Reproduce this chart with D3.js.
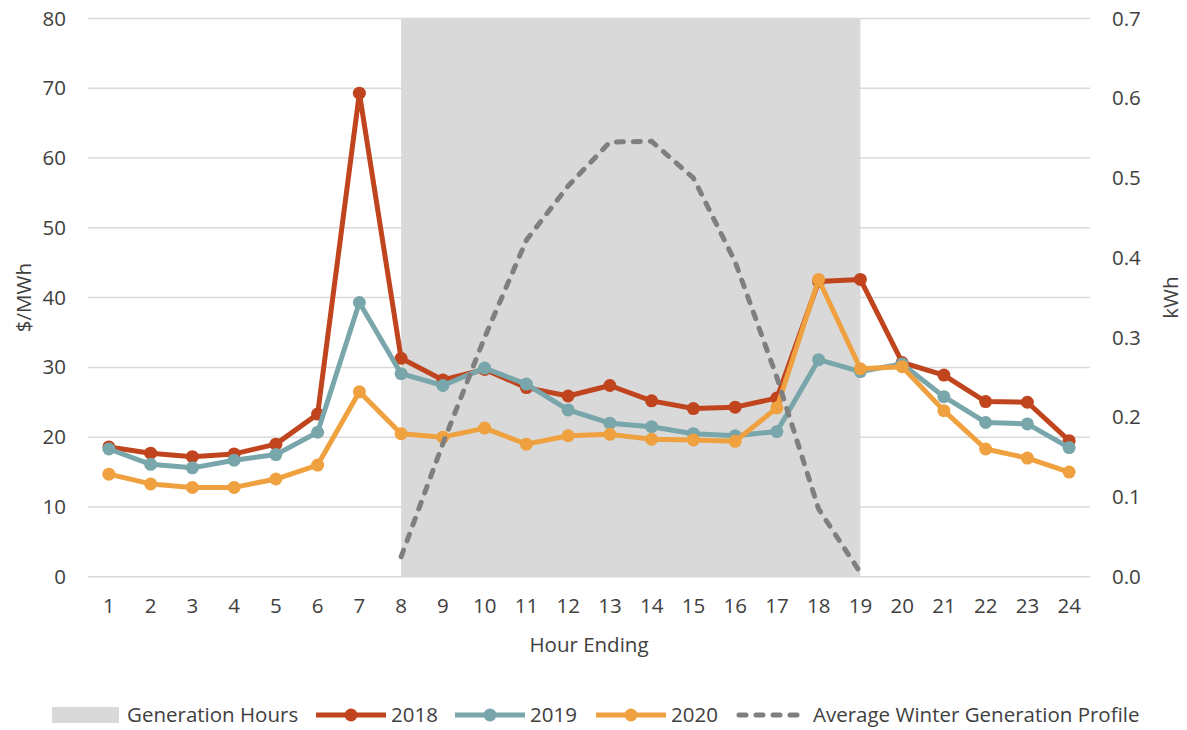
<!DOCTYPE html>
<html>
<head>
<meta charset="utf-8">
<script src="https://cdn.jsdelivr.net/npm/d3@7"></script>
<style>
  body { margin: 0; background: #fff; }
  text { font-family: "Open Sans", sans-serif; fill: #404040; }
</style>
</head>
<body>
<div id="chart"></div>
<script>
// hours on the x axis
const hours = d3.range(1, 25);

// $/MWh by hour ending
const price2018 = [18.6, 17.7, 17.2, 17.6, 19.0, 23.3, 69.3, 31.3, 28.2, 29.7, 27.1, 25.9, 27.4, 25.2, 24.1, 24.3, 25.6, 42.3, 42.6, 30.7, 28.9, 25.1, 25.0, 19.5];
const price2019 = [18.3, 16.1, 15.6, 16.7, 17.5, 20.7, 39.3, 29.1, 27.4, 29.9, 27.6, 23.9, 22.0, 21.5, 20.5, 20.2, 20.8, 31.1, 29.4, 30.5, 25.8, 22.1, 21.9, 18.5];
const price2020 = [14.7, 13.3, 12.8, 12.8, 14.0, 16.0, 26.5, 20.5, 20.0, 21.3, 19.0, 20.2, 20.4, 19.7, 19.6, 19.4, 24.2, 42.6, 29.8, 30.1, 23.8, 18.3, 17.0, 15.0];

// average winter generation profile (kWh), hours 8-19
const genHours = d3.range(8, 20);
const genProfile = [0.025, 0.167, 0.30, 0.422, 0.49, 0.545, 0.546, 0.50, 0.395, 0.25, 0.085, 0.005];

// shaded generation window
const genWindow = [8, 19];

const leftTicks = d3.range(0, 81, 10);
const rightTicks = d3.range(0, 0.71, 0.1);

const width = 1187, height = 730;
const margin = { top: 18.5, right: 97, bottom: 153.3, left: 88 };
const fs = "20.5px";

const svg = d3.select("#chart").append("svg")
  .attr("width", width)
  .attr("height", height);

const x = d3.scaleBand()
  .domain(hours)
  .range([margin.left, width - margin.right])
  .padding(0);
const cx = d => x(d) + x.bandwidth() / 2;

const yL = d3.scaleLinear().domain([0, 80]).range([height - margin.bottom, margin.top]);
const yR = d3.scaleLinear().domain([0, 0.7]).range([height - margin.bottom, margin.top]);

// gridlines
svg.append("g")
  .selectAll("line")
  .data(leftTicks)
  .join("line")
  .attr("x1", margin.left)
  .attr("x2", width - margin.right)
  .attr("y1", d => yL(d))
  .attr("y2", d => yL(d))
  .attr("stroke", "#d9d9d9")
  .attr("stroke-width", 1.5);

// generation hours shading
svg.append("rect")
  .attr("x", cx(genWindow[0]))
  .attr("width", cx(genWindow[1]) - cx(genWindow[0]))
  .attr("y", yL(80))
  .attr("height", yL(0) - yL(80))
  .attr("fill", "#d9d9d9");

// axes (labels only)
const xAxis = svg.append("g")
  .attr("transform", `translate(0,${yL(0)})`)
  .call(d3.axisBottom(x).tickSize(0).tickPadding(22));
xAxis.select(".domain").remove();
xAxis.selectAll("text").style("font-size", fs).attr("fill", "#404040");

const lAxis = svg.append("g")
  .attr("transform", `translate(${margin.left},0)`)
  .call(d3.axisLeft(yL).tickValues(leftTicks).tickSize(0).tickPadding(22));
lAxis.select(".domain").remove();
lAxis.selectAll("text").style("font-size", fs).attr("fill", "#404040");

const rAxis = svg.append("g")
  .attr("transform", `translate(${width - margin.right},0)`)
  .call(d3.axisRight(yR).tickValues(rightTicks).tickFormat(d3.format(".1f")).tickSize(0).tickPadding(22));
rAxis.select(".domain").remove();
rAxis.selectAll("text").style("font-size", fs).attr("fill", "#404040");

// axis titles
svg.append("text")
  .attr("transform", `translate(31,${(yL(0) + yL(80)) / 2}) rotate(-90)`)
  .attr("text-anchor", "middle")
  .style("font-size", fs)
  .text("$/MWh");

svg.append("text")
  .attr("transform", `translate(1178,${(yL(0) + yL(80)) / 2}) rotate(-90)`)
  .attr("text-anchor", "middle")
  .style("font-size", fs)
  .text("kWh");

svg.append("text")
  .attr("x", (margin.left + width - margin.right) / 2)
  .attr("y", 652)
  .attr("text-anchor", "middle")
  .style("font-size", fs)
  .text("Hour Ending");

// price series
const series = [
  { name: "2018", values: price2018, color: "#c0441d" },
  { name: "2019", values: price2019, color: "#78a6aa" },
  { name: "2020", values: price2020, color: "#efa140" }
];

const line = d3.line()
  .x((d, i) => cx(hours[i]))
  .y(d => yL(d));

series.forEach(s => {
  const g = svg.append("g");
  g.append("path")
    .datum(s.values)
    .attr("fill", "none")
    .attr("stroke", s.color)
    .attr("stroke-width", 5)
    .attr("stroke-linejoin", "round")
    .attr("d", line);
  g.selectAll("circle")
    .data(s.values)
    .join("circle")
    .attr("cx", (d, i) => cx(hours[i]))
    .attr("cy", d => yL(d))
    .attr("r", 6.5)
    .attr("fill", s.color);
});

// generation profile on right axis
const genLine = d3.line()
  .x((d, i) => cx(genHours[i]))
  .y(d => yR(d));

svg.append("path")
  .datum(genProfile)
  .attr("fill", "none")
  .attr("stroke", "#7f7f7f")
  .attr("stroke-width", 5)
  .attr("stroke-dasharray", "7,10")
  .attr("stroke-linecap", "round")
  .attr("d", genLine);

// legend
const ly = 715;
const legend = svg.append("g");
legend.append("rect")
  .attr("x", 52).attr("y", ly - 8)
  .attr("width", 67).attr("height", 16)
  .attr("fill", "#d9d9d9");
legend.append("text")
  .attr("x", 127).attr("y", ly)
  .attr("dy", "0.35em")
  .style("font-size", fs)
  .text("Generation Hours");

const legendItems = [
  { x: 316, s: series[0] },
  { x: 455, s: series[1] },
  { x: 596, s: series[2] }
];
legendItems.forEach(it => {
  legend.append("line")
    .attr("x1", it.x).attr("x2", it.x + 70)
    .attr("y1", ly).attr("y2", ly)
    .attr("stroke", it.s.color)
    .attr("stroke-width", 5);
  legend.append("circle")
    .attr("cx", it.x + 35).attr("cy", ly)
    .attr("r", 6.5)
    .attr("fill", it.s.color);
  legend.append("text")
    .attr("x", it.x + 75).attr("y", ly)
    .attr("dy", "0.35em")
    .style("font-size", fs)
    .text(it.s.name);
});

legend.append("line")
  .attr("x1", 739).attr("x2", 805)
  .attr("y1", ly).attr("y2", ly)
  .attr("stroke", "#7f7f7f")
  .attr("stroke-width", 5)
  .attr("stroke-dasharray", "7,10")
  .attr("stroke-linecap", "round");
legend.append("text")
  .attr("x", 813).attr("y", ly)
  .attr("dy", "0.35em")
  .style("font-size", fs)
  .text("Average Winter Generation Profile");
</script>
</body>
</html>
